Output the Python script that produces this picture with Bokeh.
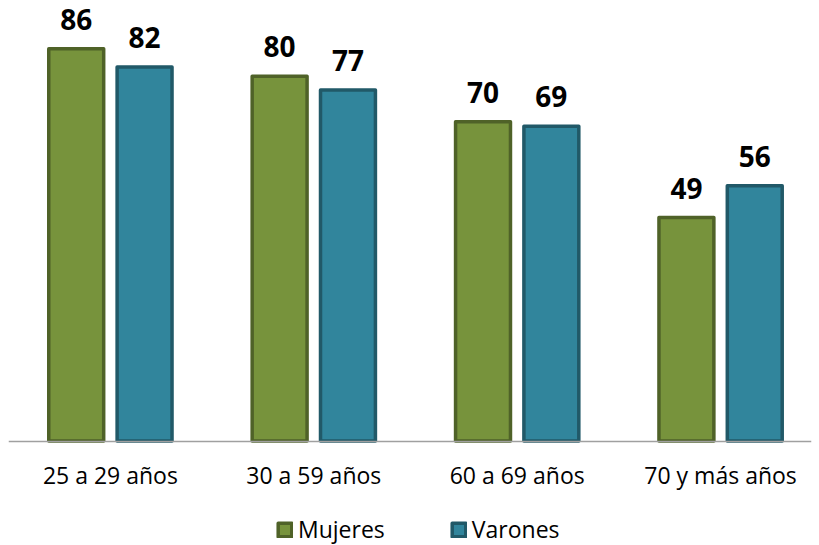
from bokeh.plotting import figure
from bokeh.models import ColumnDataSource, Range1d, FixedTicker, Legend, LegendItem, LabelSet
from bokeh.core.properties import value
from bokeh.embed import file_html
from bokeh.resources import INLINE

categories = ["25 a 29 años", "30 a 59 años", "60 a 69 años", "70 y más años"]
mujeres = [86, 80, 70, 49]
varones = [82, 77, 69, 56]

pos = list(range(len(categories)))
off = 0.168
bw = 0.27

src_m = ColumnDataSource(dict(x=[p_ - off for p_ in pos], top=mujeres, lab=[str(v) for v in mujeres]))
src_v = ColumnDataSource(dict(x=[p_ + off for p_ in pos], top=varones, lab=[str(v) for v in varones]))

p = figure(width=819, height=545, output_backend="svg", toolbar_location=None,
           x_range=Range1d(-0.501, 3.447), y_range=Range1d(-22.9, 96.6),
           min_border_left=8, min_border_right=8, min_border_top=0, min_border_bottom=0)
p.outline_line_color = None
p.xgrid.visible = False
p.ygrid.visible = False
p.yaxis.visible = False

rm = p.vbar(x="x", top="top", width=bw, source=src_m, fill_color="#77933C",
            line_color="#4F6228", line_width=3.5, line_join="round")
rv = p.vbar(x="x", top="top", width=bw, source=src_v, fill_color="#31859C",
            line_color="#215968", line_width=3.5, line_join="round")

for s in (src_m, src_v):
    p.add_layout(LabelSet(x="x", y="top", text="lab", source=s, text_align="center",
                          text_baseline="alphabetic", y_offset=19,
                          text_font=value("Open Sans"), text_font_style="bold",
                          text_font_size="28px", text_color="black"))

ax = p.xaxis[0]
ax.fixed_location = 0
ax.ticker = FixedTicker(ticks=pos)
ax.major_label_overrides = {i: c for i, c in enumerate(categories)}
ax.major_tick_line_color = None
ax.minor_tick_line_color = None
ax.axis_line_color = "#A0A0A0"
ax.axis_line_width = 1.5
ax.major_label_standoff = 12
ax.major_label_text_font = "Open Sans"
ax.major_label_text_font_size = "23px"
ax.major_label_text_color = "black"

legend = Legend(items=[LegendItem(label="Mujeres", renderers=[rm]),
                       LegendItem(label="Varones", renderers=[rv])],
                orientation="horizontal", location=(268, 0),
                glyph_width=17, glyph_height=17, label_standoff=5, spacing=65,
                label_text_font="Open Sans", label_text_font_size="23px",
                label_text_color="black",
                border_line_color=None, background_fill_alpha=0, padding=0, margin=0)
p.add_layout(legend, "center")

open("out.html", "w").write(file_html(p, INLINE))
